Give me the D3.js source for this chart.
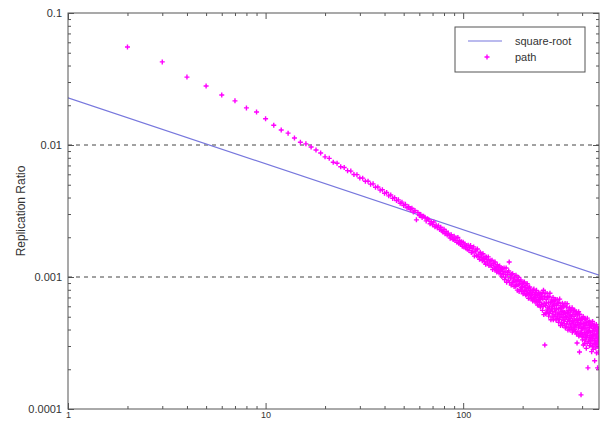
<!DOCTYPE html>
<html>
<head>
<meta charset="utf-8">
<script src="https://cdn.jsdelivr.net/npm/d3@7"></script>
<style>
  body { margin: 0; background: #fff; }
  svg { display: block; font-family: Arial, "Liberation Sans", sans-serif; }
</style>
</head>
<body>
<svg id="chart" width="605" height="421"></svg>
<script>
// path series: replication ratio for path length 2, 3, 4, ...
const FIRST_LENGTH = 2;
const pathRatio = [
  0.0552, 0.0426, 0.0327, 0.0280, 0.0239, 0.0216, 0.0191, 0.0178, 0.0158, 0.0141,
  0.0130, 0.0123, 0.0113, 0.0105, 0.0102, 0.00966, 0.00917, 0.00870, 0.00813, 0.00792,
  0.00741, 0.00728, 0.00685, 0.00676, 0.00639, 0.00634, 0.00598, 0.00596, 0.00562, 0.00561,
  0.00531, 0.00532, 0.00505, 0.00508, 0.00479, 0.00481, 0.00455, 0.00458, 0.00431, 0.00437,
  0.00412, 0.00418, 0.00394, 0.00399, 0.00379, 0.00384, 0.00362, 0.00369, 0.00348, 0.00355,
  0.00335, 0.00341, 0.00324, 0.00332, 0.00311, 0.00319, 0.00271, 0.00308, 0.00292, 0.00298,
  0.00282, 0.00289, 0.00283, 0.00266, 0.00276, 0.00271, 0.00253, 0.00262, 0.00249, 0.00261,
  0.00240, 0.00247, 0.00236, 0.00244, 0.00229, 0.00238, 0.00224, 0.00219, 0.00230, 0.00213,
  0.00221, 0.00208, 0.00215, 0.00206, 0.00197, 0.00209, 0.00198, 0.00192, 0.00204, 0.00189,
  0.00197, 0.00183, 0.00199, 0.00180, 0.00188, 0.00176, 0.00185, 0.00171, 0.00183, 0.00169,
  0.00178, 0.00166, 0.00173, 0.00162, 0.00174, 0.00159, 0.00168, 0.00173, 0.00153, 0.00164,
  0.00155, 0.00169, 0.00144, 0.00155, 0.00160, 0.00145, 0.00163, 0.00143, 0.00149, 0.00136,
  0.00154, 0.00141, 0.00147, 0.00133, 0.00150, 0.00138, 0.00131, 0.00142, 0.00125, 0.00142,
  0.00135, 0.00128, 0.00142, 0.00122, 0.00132, 0.00123, 0.00133, 0.00122, 0.00134, 0.00114,
  0.00123, 0.00127, 0.00115, 0.00130, 0.00115, 0.00120, 0.00109, 0.00124, 0.00113, 0.00118,
  0.00107, 0.00121, 0.00111, 0.00106, 0.00115, 0.00101, 0.00116, 0.00110, 0.00105, 0.00117,
  0.000957, 0.00109, 0.000997, 0.00117, 0.000912, 0.00104, 0.00108, 0.000944, 0.00111, 0.00130,
  0.000906, 0.00104, 0.000983, 0.000870, 0.00105, 0.000907, 0.00106, 0.000914, 0.000965, 0.000847,
  0.00100, 0.000921, 0.000850, 0.00103, 0.000868, 0.000944, 0.000795, 0.000951, 0.000874, 0.000993,
  0.000776, 0.000886, 0.000924, 0.000807, 0.000949, 0.000832, 0.000776, 0.000890, 0.000843, 0.000747,
  0.000901, 0.000780, 0.000916, 0.000788, 0.000833, 0.000731, 0.000865, 0.000795, 0.000735, 0.000890,
  0.000751, 0.000818, 0.000689, 0.000826, 0.000760, 0.000840, 0.000690, 0.000786, 0.000721, 0.000732,
  0.000684, 0.000785, 0.000745, 0.000659, 0.000796, 0.000690, 0.000810, 0.000698, 0.000737, 0.000648,
  0.000766, 0.000706, 0.000653, 0.000792, 0.000668, 0.000728, 0.000613, 0.000735, 0.000676, 0.000749,
  0.000616, 0.000701, 0.000644, 0.000757, 0.000592, 0.000678, 0.000708, 0.000619, 0.000729, 0.000760,
  0.000559, 0.000682, 0.000601, 0.000794, 0.000519, 0.000633, 0.000708, 0.000305, 0.000754, 0.000605,
  0.000527, 0.000677, 0.000637, 0.000541, 0.000751, 0.000562, 0.000703, 0.000583, 0.000637, 0.000505,
  0.000712, 0.000594, 0.000531, 0.000754, 0.000551, 0.000639, 0.000475, 0.000671, 0.000573, 0.000649,
  0.000498, 0.000603, 0.000548, 0.000700, 0.000475, 0.000613, 0.000518, 0.000661, 0.000578, 0.000634,
  0.000505, 0.000676, 0.000542, 0.000473, 0.000608, 0.000572, 0.000485, 0.000676, 0.000505, 0.000632,
  0.000525, 0.000573, 0.000454, 0.000641, 0.000534, 0.000478, 0.000680, 0.000497, 0.000577, 0.000429,
  0.000606, 0.000518, 0.000586, 0.000450, 0.000546, 0.000496, 0.000632, 0.000429, 0.000554, 0.000469,
  0.000599, 0.000524, 0.000600, 0.000443, 0.000541, 0.000477, 0.000631, 0.000412, 0.000504, 0.000528,
  0.000419, 0.000592, 0.000493, 0.000441, 0.000627, 0.000459, 0.000533, 0.000396, 0.000560, 0.000479,
  0.000542, 0.000417, 0.000505, 0.000459, 0.000585, 0.000398, 0.000515, 0.000434, 0.000555, 0.000486,
  0.000557, 0.000411, 0.000501, 0.000443, 0.000584, 0.000382, 0.000467, 0.000523, 0.000417, 0.000558,
  0.000448, 0.000391, 0.000502, 0.000473, 0.000402, 0.000559, 0.000419, 0.000524, 0.000435, 0.000387,
  0.000469, 0.000427, 0.000545, 0.000370, 0.000479, 0.000316, 0.000516, 0.000452, 0.000519, 0.000383,
  0.000467, 0.000412, 0.000545, 0.000357, 0.000436, 0.000488, 0.000270, 0.000522, 0.000419, 0.000364,
  0.000469, 0.000441, 0.000375, 0.000128, 0.000391, 0.000489, 0.000406, 0.000444, 0.000353, 0.000480,
  0.000334, 0.000406, 0.000366, 0.000502, 0.000305, 0.000419, 0.000447, 0.000349, 0.000479, 0.000378,
  0.000314, 0.000431, 0.000404, 0.000333, 0.000481, 0.000364, 0.000450, 0.000379, 0.000288, 0.000451,
  0.000348, 0.000412, 0.000314, 0.000488, 0.000361, 0.000381, 0.000205, 0.000431, 0.000387, 0.000454,
  0.000325, 0.000392, 0.000347, 0.000458, 0.000302, 0.000413, 0.000360, 0.000438, 0.000331, 0.000381,
  0.000314, 0.000455, 0.000344, 0.000425, 0.000358, 0.000272, 0.000427, 0.000329, 0.000390, 0.000296,
  0.000461, 0.000342, 0.000360, 0.000283, 0.000408, 0.000365, 0.000429, 0.000307, 0.000370, 0.000328,
  0.000434, 0.000232, 0.000390, 0.000341, 0.000415, 0.000313, 0.000417, 0.000290, 0.000352, 0.000318,
  0.000437, 0.000266, 0.000364, 0.000390, 0.000305, 0.000417, 0.000329, 0.000205, 0.000375, 0.000323,
  0.000341, 0.000268, 0.000386, 0.000347, 0.000407, 0.000291, 0.000352, 0.000311, 0.000411
];

// square-root reference line (straight on log-log)
const sqrtX = [1, 490];
const sqrtY = [0.0228, 0.00103];

const yTicks = [0.1, 0.01, 0.001, 0.0001];
const yTickLabels = ["0.1", "0.01", "0.001", "0.0001"];
const xTicks = [1, 10, 100];
const xTickLabels = ["1", "10", "100"];
const gridLevels = [0.01, 0.001];
const seriesNames = ["square-root", "path"];
const yTitle = "Replication Ratio";

const pathData = pathRatio.map((v, i) => ({x: FIRST_LENGTH + i, y: v}));
const sqrtData = sqrtX.map((v, i) => ({x: v, y: sqrtY[i]}));

const margin = {left: 68, top: 13, right: 6, bottom: 12};
const W = 605, H = 421;
const width = W - margin.left - margin.right;
const height = H - margin.top - margin.bottom;

const svg = d3.select("#chart");
const g = svg.append("g")
    .attr("transform", "translate(" + margin.left + "," + margin.top + ")");

const x = d3.scaleLog().domain([1, 487]).range([0, width]);
const y = d3.scaleLog().domain([0.0001, 0.1]).range([height, 0]);

const axisColor = "#555";
const textColor = "#333";

// minor tick values (the log 2..9 positions)
const xMinor = x.ticks().filter(t => xTicks.indexOf(t) < 0);
const yMinor = y.ticks().filter(t => yTicks.indexOf(t) < 0);

function styleAxis(sel) {
    sel.select(".domain").remove();
    sel.selectAll(".tick line").attr("stroke", axisColor);
    sel.selectAll(".tick text")
        .attr("fill", textColor)
        .style("font-size", "11px");
}

// left axis (labels) + inward ticks
g.append("g")
    .call(d3.axisLeft(y).tickValues(yTicks)
        .tickFormat((d, i) => yTickLabels[i])
        .tickSizeInner(-6).tickPadding(6))
    .call(styleAxis)
    .selectAll(".tick text").attr("x", -6);
g.append("g")
    .call(d3.axisLeft(y).tickValues(yMinor).tickFormat("").tickSizeInner(-3))
    .call(styleAxis);
// right mirror
g.append("g").attr("transform", "translate(" + width + ",0)")
    .call(d3.axisRight(y).tickValues(yTicks).tickFormat("").tickSizeInner(-6))
    .call(styleAxis);
g.append("g").attr("transform", "translate(" + width + ",0)")
    .call(d3.axisRight(y).tickValues(yMinor).tickFormat("").tickSizeInner(-3))
    .call(styleAxis);

// bottom axis: labels sit right at the lower edge, as in the original
g.append("g").attr("transform", "translate(0," + height + ")")
    .call(d3.axisBottom(x).tickValues(xTicks)
        .tickFormat((d, i) => xTickLabels[i])
        .tickSizeInner(-6).tickPadding(3))
    .call(styleAxis)
    .selectAll(".tick text").style("font-size", "9px");
g.append("g").attr("transform", "translate(0," + height + ")")
    .call(d3.axisBottom(x).tickValues(xMinor).tickFormat("").tickSizeInner(-3))
    .call(styleAxis);
// top mirror
g.append("g")
    .call(d3.axisTop(x).tickValues(xTicks).tickFormat("").tickSizeInner(-6))
    .call(styleAxis);
g.append("g")
    .call(d3.axisTop(x).tickValues(xMinor).tickFormat("").tickSizeInner(-3))
    .call(styleAxis);

// dashed grid lines
g.append("g").selectAll("line")
    .data(gridLevels)
    .enter().append("line")
    .attr("x1", 0).attr("x2", width)
    .attr("y1", d => y(d)).attr("y2", d => y(d))
    .attr("stroke", "#444")
    .attr("stroke-width", 1)
    .attr("stroke-dasharray", "4,4");

// clip for the data
svg.append("defs").append("clipPath").attr("id", "plotclip")
    .append("rect").attr("width", width).attr("height", height);
const plot = g.append("g").attr("clip-path", "url(#plotclip)");

// square-root line
plot.append("path")
    .datum(sqrtData)
    .attr("fill", "none")
    .attr("stroke", "#7777dd")
    .attr("stroke-width", 1.2)
    .attr("d", d3.line().x(d => x(d.x)).y(d => y(d.y)));

// path points (small plus marks)
const mark = "M-2.5,0H2.5M0,-2.5V2.5";
plot.append("g").selectAll("path")
    .data(pathData)
    .enter().append("path")
    .attr("d", mark)
    .attr("transform", d => "translate(" + x(d.x) + "," + y(d.y) + ")")
    .attr("stroke", "#ff00ff")
    .attr("stroke-width", 1.4)
    .attr("fill", "none");

// frame
g.append("rect")
    .attr("width", width).attr("height", height)
    .attr("fill", "none")
    .attr("stroke", axisColor)
    .attr("stroke-width", 1);

// y title
svg.append("text")
    .attr("transform", "translate(22," + (margin.top + height / 2) + ") rotate(-90)")
    .attr("text-anchor", "middle")
    .attr("dominant-baseline", "middle")
    .attr("fill", textColor)
    .style("font-size", "12px")
    .text(yTitle);

// legend
const lg = g.append("g").attr("transform", "translate(" + (455 - margin.left) + "," + (27 - margin.top) + ")");
lg.append("rect")
    .attr("width", 130).attr("height", 45)
    .attr("fill", "#fff")
    .attr("stroke", axisColor);
lg.append("line")
    .attr("x1", 13).attr("x2", 47).attr("y1", 14).attr("y2", 14)
    .attr("stroke", "#7777dd").attr("stroke-width", 1.2);
lg.append("path")
    .attr("d", mark)
    .attr("transform", "translate(32,30)")
    .attr("stroke", "#ff00ff").attr("stroke-width", 1.4);
lg.selectAll("text.leg")
    .data(seriesNames)
    .enter().append("text")
    .attr("class", "leg")
    .attr("x", 60)
    .attr("y", (d, i) => 18 + i * 16)
    .attr("fill", textColor)
    .style("font-size", "11px")
    .text(d => d);
</script>
</body>
</html>
